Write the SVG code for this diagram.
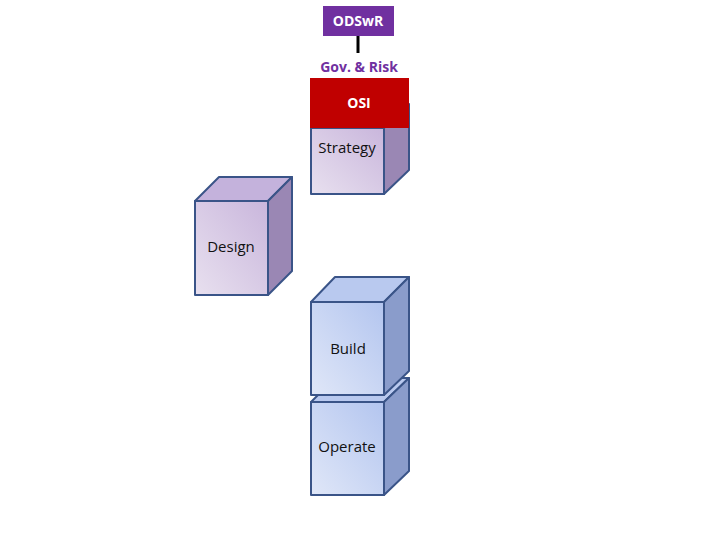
<svg xmlns="http://www.w3.org/2000/svg" width="720" height="540" viewBox="0 0 720 540">
<defs>
<linearGradient id="pf" x1="1" y1="0" x2="0" y2="1"><stop offset="0" stop-color="#c9b6dc"/><stop offset="1" stop-color="#e8e0ef"/></linearGradient>
<linearGradient id="bf" x1="1" y1="0" x2="0" y2="1"><stop offset="0" stop-color="#b3c5ef"/><stop offset="1" stop-color="#e0e7f8"/></linearGradient>
<style>
.e{stroke:#3a5488;stroke-width:2;stroke-linejoin:round}
.pt{fill:#c4b2dc}.ps{fill:#9a87b4}
.bt{fill:#b9c9ef}.bs{fill:#8a9ccb}
.t{font-family:"Open Sans","Liberation Sans",sans-serif;font-size:15px;fill:#111;text-anchor:middle}
.w{font-family:"Open Sans","Liberation Sans",sans-serif;font-size:14px;font-weight:bold;text-anchor:middle}
</style>
</defs>
<g id="connectors"><line x1="358" y1="36" x2="358" y2="53" stroke="#000" stroke-width="3"/></g>
<g id="odswr"><rect x="323" y="6" width="71" height="30" fill="#7030a0"/><text class="w" x="358" y="26" fill="#fff">ODSwR</text></g>
<g id="gov"><text class="w" x="359" y="72" fill="#7030a0">Gov. &amp; Risk</text></g>
<g id="strategy">
<polygon class="e ps" points="384,128 409,104 409,170 384,194"/>
<rect class="e" x="311" y="128" width="73" height="66" fill="url(#pf)"/>
<text class="t" x="347" y="153">Strategy</text></g>
<g id="osi"><rect x="310" y="78" width="99" height="50" fill="#c00000"/><text class="w" x="359" y="108" fill="#fff">OSI</text></g>
<g id="design">
<polygon class="e pt" points="195,201 219,177 292,177 268,201"/>
<polygon class="e ps" points="268,201 292,177 292,271 268,295"/>
<rect class="e" x="195" y="201" width="73" height="94" fill="url(#pf)"/>
<text class="t" x="231" y="252">Design</text></g>
<g id="operate">
<polygon class="e bt" points="311,402 335,378 409,378 384,402"/>
<polygon class="e bs" points="384,402 409,378 409,471 384,495"/>
<rect class="e" x="311" y="402" width="73" height="93" fill="url(#bf)"/>
<text class="t" x="347" y="452">Operate</text></g>
<g id="build">
<polygon class="e bt" points="311,302 335,277 409,277 384,302"/>
<polygon class="e bs" points="384,302 409,277 409,371 384,395"/>
<rect class="e" x="311" y="302" width="73" height="93" fill="url(#bf)"/>
<text class="t" x="348" y="354">Build</text></g>
</svg>
